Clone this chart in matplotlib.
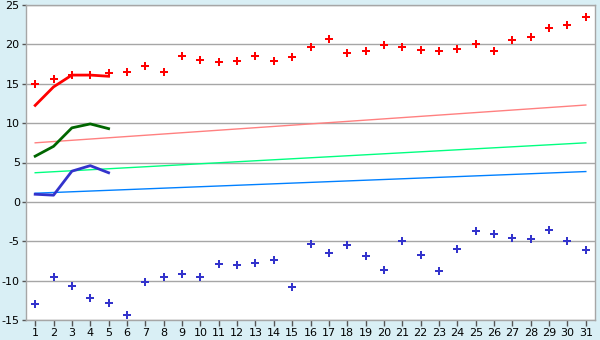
import numpy as np
import matplotlib
matplotlib.use('Agg')
import matplotlib.pyplot as plt

plt.rcParams['axes.unicode_minus'] = False

days = np.arange(1, 32)
high_pts = [15.0, 15.6, 16.1, 16.1, 16.4, 16.5, 17.3, 16.5, 18.5, 18.0,
            17.8, 17.9, 18.5, 17.9, 18.4, 19.7, 20.7, 18.9, 19.2, 19.9,
            19.7, 19.3, 19.2, 19.4, 20.0, 19.2, 20.6, 20.9, 22.1, 22.5, 23.5]
low_pts = [-13.0, -9.6, -10.7, -12.2, -12.9, -14.4, -10.2, -9.6, -9.2, -9.6,
           -7.9, -8.05, -7.8, -7.4, -10.8, -5.3, -6.5, -5.5, -6.9, -8.6,
           -5.0, -6.7, -8.8, -6.0, -3.75, -4.1, -4.6, -4.75, -3.6, -5.0, -6.15]

first_days = [1, 2, 3, 4, 5]
high_line = [12.25, 14.6, 16.1, 16.1, 15.95]
mean_line = [5.8, 7.05, 9.4, 9.9, 9.3]
low_line = [0.97, 0.85, 3.9, 4.6, 3.7]

trend_days = [1, 31]
high_trend = [7.5, 12.3]
mean_trend = [3.7, 7.5]
low_trend = [1.1, 3.85]

bg = '#d9eff5'
grid_c = '#a6a6a6'

fig = plt.figure(figsize=(6, 3.4), dpi=100, facecolor=bg)
ax = fig.add_axes([26 / 600, 20 / 340, 569 / 600, 315 / 340])
ax.set_facecolor('white')

ax.plot(trend_days, high_trend, color='#ff8080', lw=1.0)
ax.plot(trend_days, mean_trend, color='#00ff80', lw=1.0)
ax.plot(trend_days, low_trend, color='#0080ff', lw=1.0)

ax.plot(first_days, high_line, color='#ff0000', lw=2)
ax.plot(first_days, mean_line, color='#006600', lw=2)
ax.plot(first_days, low_line, color='#3333cc', lw=2)

ax.plot(days, high_pts, ls='none', marker='P', ms=5.5, color='#ff0000', mew=0)
ax.plot(days, low_pts, ls='none', marker='P', ms=5.5, color='#3333cc', mew=0)

ax.set_xlim(0.5, 31.5)
ax.set_ylim(-15, 25)
ax.set_xticks(days)
ax.set_xticklabels([str(d) for d in days])
ax.set_yticks(np.arange(-15, 26, 5))
ax.yaxis.grid(True, color=grid_c, lw=1)
ax.set_axisbelow(True)
for s in ax.spines.values():
    s.set_color(grid_c)
    s.set_linewidth(1)
ax.tick_params(axis='both', colors='black', labelsize=8, length=4,
               width=1, pad=1.5)
ax.tick_params(axis='x', color='#555555')
ax.tick_params(axis='y', color='#555555', length=3)

fig.savefig('out.png', dpi=100, facecolor=bg)
